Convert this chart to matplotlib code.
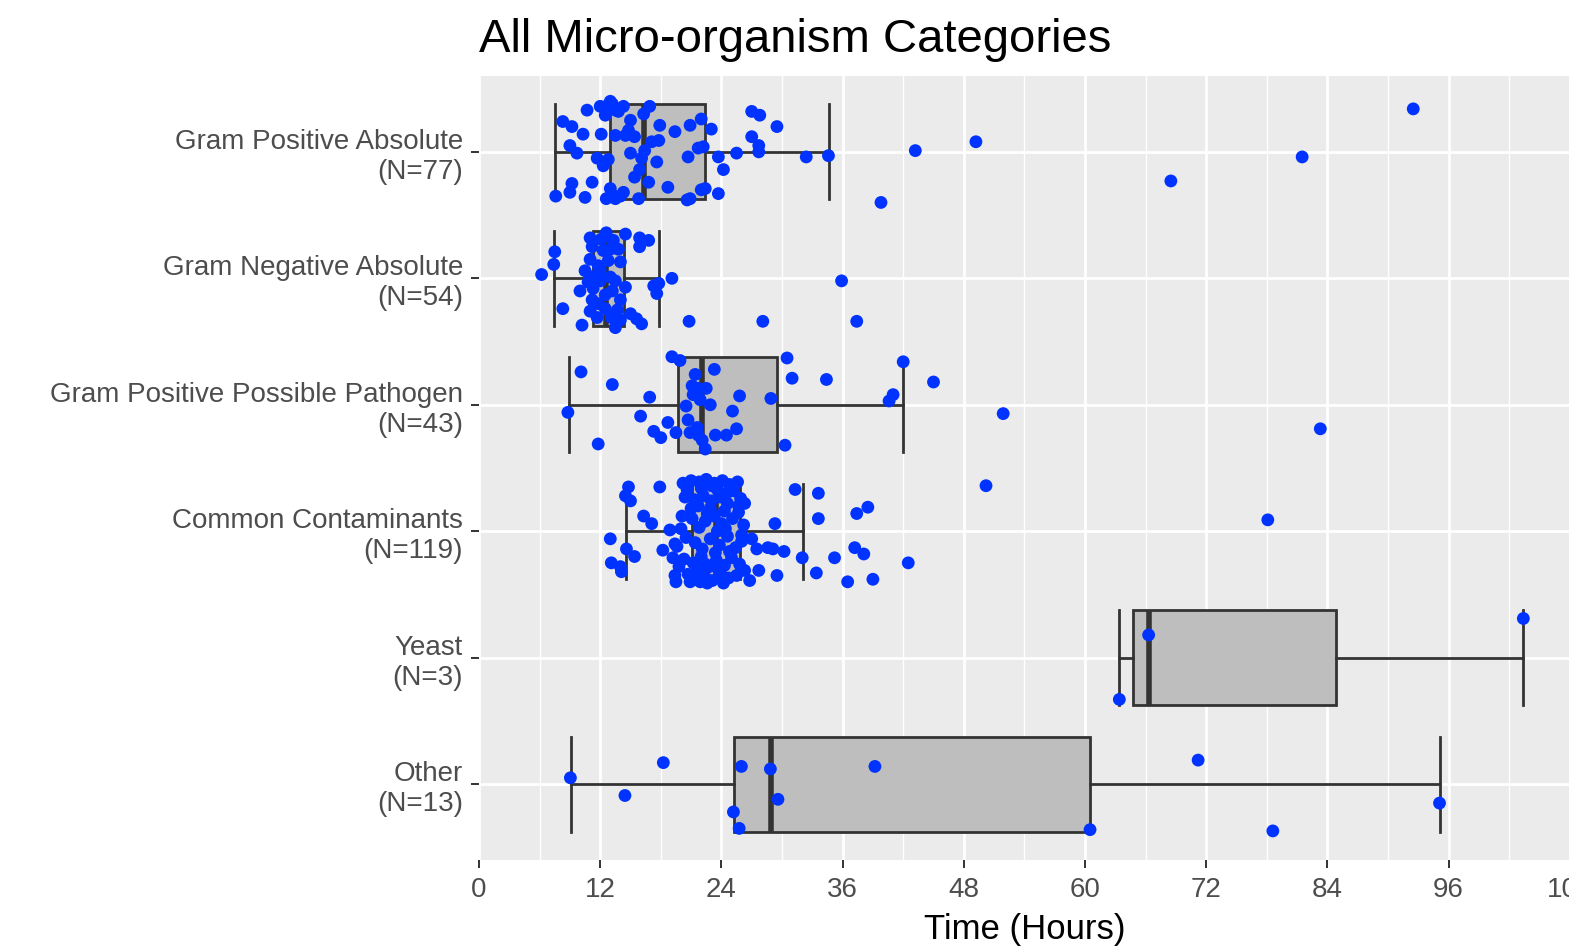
import matplotlib
matplotlib.use("Agg")
import matplotlib.pyplot as plt

plt.rcParams['font.family'] = ['Liberation Sans', 'DejaVu Sans']

# categories, top to bottom
categories = ["Gram Positive Absolute", "Gram Negative Absolute",
              "Gram Positive Possible Pathogen", "Common Contaminants",
              "Yeast", "Other"]
counts = [77, 54, 43, 119, 3, 13]

# box statistics: whisker low, Q1, median, Q3, whisker high
whisk_lo = [7.5, 7.4, 8.9, 14.6, 63.4, 9.1]
q1 = [13.0, 11.3, 19.7, 21.1, 64.8, 25.2]
med = [16.3, 12.6, 22.1, 23.5, 66.3, 28.9]
q3 = [22.4, 14.4, 29.5, 25.8, 84.9, 60.5]
whisk_hi = [34.7, 17.8, 42.0, 32.1, 103.4, 95.1]

# individual observations (hours) and their vertical jitter
gpa_hours = [7.6, 8.3, 9.2, 10.3, 9.0, 9.7, 10.7, 9.2, 9.0, 10.5, 11.2, 11.7, 12.3, 12.1,
             12.6, 13.0, 13.5, 14.3, 12.5, 13.5, 14.5, 15.4, 15.0, 15.0, 15.4, 13.0, 12.6,
             13.5, 14.3, 16.8, 15.8, 16.3, 16.9, 16.1, 16.4, 17.1, 17.8, 17.6, 17.9, 19.4,
             18.7, 20.6, 20.9, 20.7, 21.7, 22.0, 22.0, 23.0, 22.2, 23.7, 24.2, 25.5, 22.4,
             23.7, 27.0, 27.8, 29.5, 27.0, 27.7, 27.7, 32.4, 34.6, 20.9, 39.8, 43.2, 49.2,
             68.5, 81.5, 92.5, 13.2, 13.8, 14.0, 13.2, 14.8, 15.9, 12.8, 12.0]
gpa_jitter = [-0.35, 0.24, 0.20, 0.14, 0.05, -0.01, 0.33, -0.25, -0.32, -0.36, -0.24, -0.05,
              -0.11, 0.14, 0.36, 0.40, 0.33, 0.36, 0.29, 0.13, 0.13, 0.12, 0.25, -0.01, -0.20,
              -0.29, -0.37, -0.37, -0.32, -0.24, -0.37, 0.30, 0.36, -0.05, 0.01, 0.08, 0.09,
              -0.08, 0.21, 0.16, -0.28, -0.38, 0.21, -0.04, 0.03, 0.26, -0.30, 0.18, 0.04,
              -0.04, -0.14, -0.01, -0.29, -0.33, 0.32, 0.29, 0.20, 0.12, 0.05, 0.00, -0.04,
              -0.03, -0.37, -0.40, 0.01, 0.08, -0.23, -0.04, 0.34, 0.38, 0.32, -0.35, -0.34,
              0.17, -0.14, -0.06, 0.36]

gna_hours = [6.2, 7.5, 7.4, 8.3, 10.0, 10.2, 11.0, 11.2, 11.0, 10.8, 11.5, 12.0, 12.1, 12.6,
             13.0, 13.8, 14.5, 14.0, 13.0, 13.5, 11.3, 11.0, 11.8, 12.5, 11.7, 13.1, 13.5,
             14.0, 15.0, 15.6, 16.1, 15.9, 16.8, 15.9, 17.3, 17.6, 19.1, 20.8, 35.9, 28.1,
             37.4, 12.0, 12.5, 13.2, 11.8, 14.0, 12.8, 12.3, 11.2, 13.7, 10.5, 13.3, 17.8,
             14.5]
gna_jitter = [0.03, 0.21, 0.11, -0.24, -0.10, -0.37, 0.32, 0.25, 0.15, -0.03, 0.02, 0.07,
              0.31, 0.36, 0.23, 0.23, 0.35, 0.13, 0.01, -0.02, -0.08, -0.26, -0.20, -0.24,
              -0.31, -0.31, -0.39, -0.33, -0.28, -0.32, -0.36, 0.32, 0.30, 0.25, -0.06, -0.12,
              0.00, -0.34, -0.02, -0.34, -0.34, -0.02, -0.13, -0.10, 0.10, -0.17, 0.14, 0.22,
              -0.17, -0.25, 0.06, 0.30, -0.04, -0.07]

gppp_hours = [8.8, 10.1, 13.2, 11.8, 16.9, 16.0, 17.3, 18.0, 18.7, 19.5, 19.1, 19.9, 20.5,
              21.4, 21.1, 21.7, 21.2, 22.5, 20.9, 21.6, 21.7, 22.4, 23.3, 22.9, 23.4, 24.5,
              25.5, 25.1, 25.8, 28.9, 30.5, 31.0, 30.3, 34.4, 40.6, 41.0, 42.0, 45.0, 51.9,
              83.3, 21.9, 20.7, 22.1]
gppp_jitter = [-0.06, 0.26, 0.16, -0.31, 0.06, -0.09, -0.21, -0.26, -0.14, -0.22, 0.38, 0.35,
               -0.01, 0.24, 0.15, 0.13, 0.08, 0.13, -0.22, -0.18, -0.24, -0.35, 0.28, 0.00,
               -0.24, -0.24, -0.19, -0.05, 0.07, 0.05, 0.37, 0.21, -0.32, 0.20, 0.03, 0.08,
               0.34, 0.18, -0.07, -0.19, 0.04, -0.12, -0.28]

cc_hours = [14.8, 14.5, 15.0, 17.9, 16.3, 17.1, 13.0, 14.6, 15.4, 13.1, 14.0, 14.1, 18.9,
            18.2, 19.4, 19.2, 19.4, 19.5,
            25.7, 26.3, 29.3, 31.3, 33.6, 33.6, 37.4, 38.5, 26.0, 27.0, 27.5, 28.6, 29.1,
            30.2, 32.0, 35.2, 37.2, 38.1, 42.5, 26.0, 27.7, 26.8, 29.5, 33.4, 36.5, 39.0,
            50.2, 78.1,
            20.2, 21.0, 21.8, 22.5, 23.3, 24.1, 24.8, 25.6, 20.6, 22.0, 23.6, 25.2,
            20.4, 21.3, 22.2, 23.0, 23.9, 24.6, 25.9, 21.7, 22.9, 24.3,
            20.1, 21.1, 22.4, 23.3, 24.0, 25.1, 21.8, 23.6, 26.2,
            20.5, 21.4, 22.1, 22.9, 23.8, 24.6, 25.4, 26.0, 19.6,
            20.3, 21.2, 22.0, 22.8, 23.5, 24.3, 25.0, 25.8, 21.6, 19.8,
            20.7, 21.5, 22.3, 23.1, 23.9, 24.7, 25.5, 26.3, 22.6, 24.2, 21.9, 20.9,
            23.0, 24.5, 22.6, 24.8, 21.0, 23.4, 25.7, 20.0, 24.4, 22.4, 23.7]
cc_jitter = [0.35, 0.28, 0.24, 0.35, 0.12, 0.06, -0.06, -0.14, -0.20, -0.25, -0.28, -0.32, 0.01,
             -0.15, -0.10, -0.21, -0.35, -0.40,
             0.20, 0.22, 0.06, 0.33, 0.30, 0.10, 0.14, 0.19, -0.03, -0.06, -0.14, -0.13, -0.14,
             -0.16, -0.21, -0.21, -0.13, -0.18, -0.25, -0.30, -0.31, -0.39, -0.35, -0.33,
             -0.40, -0.38, 0.36, 0.09,
             0.38, 0.40, 0.39, 0.41, 0.38, 0.40, 0.37, 0.39, 0.33, 0.34, 0.33, 0.32,
             0.27, 0.25, 0.28, 0.24, 0.27, 0.22, 0.26, 0.20, 0.18, 0.16,
             0.12, 0.10, 0.08, 0.12, 0.06, 0.10, 0.03, 0.00, 0.05,
             -0.05, -0.09, -0.14, -0.06, -0.11, -0.04, -0.13, -0.08, -0.12,
             -0.22, -0.25, -0.20, -0.28, -0.23, -0.27, -0.21, -0.26, -0.30, -0.28,
             -0.34, -0.38, -0.35, -0.39, -0.33, -0.37, -0.35, -0.31, -0.41, -0.41, -0.40, -0.40,
             0.36, 0.30, 0.14, -0.16, 0.18, -0.17, 0.15, 0.02, 0.02, -0.26, -0.30]

yeast_hours = [63.4, 66.3, 103.4]
yeast_jitter = [-0.33, 0.18, 0.31]

other_hours = [9.05, 18.25, 14.45, 25.98, 28.85, 29.6, 25.19, 25.76, 39.2, 60.5, 71.2, 95.1, 78.6]
other_jitter = [0.05, 0.17, -0.09, 0.14, 0.12, -0.12, -0.22, -0.35, 0.14, -0.36, 0.19, -0.15, -0.37]

hours = [gpa_hours, gna_hours, gppp_hours, cc_hours, yeast_hours, other_hours]
jitter = [gpa_jitter, gna_jitter, gppp_jitter, cc_jitter, yeast_jitter, other_jitter]

positions = list(range(len(categories), 0, -1))

fig = plt.figure(figsize=(15.69, 9.5), dpi=100)
ax = fig.add_axes([479 / 1569, 1 - 860 / 950, 1090.8 / 1569, 784 / 950])
ax.set_facecolor('#EBEBEB')
for s in ax.spines.values():
    s.set_visible(False)

stats = []
for i in range(len(categories)):
    stats.append(dict(whislo=whisk_lo[i], q1=q1[i], med=med[i], q3=q3[i], whishi=whisk_hi[i]))

edge = '#333333'
ax.bxp(stats, positions=positions, widths=0.75, capwidths=0.75,
       orientation='horizontal', patch_artist=True, showfliers=False, manage_ticks=False,
       boxprops=dict(facecolor='#BEBEBE', edgecolor=edge, linewidth=2.0),
       whiskerprops=dict(color=edge, linewidth=2.0),
       capprops=dict(color=edge, linewidth=2.0),
       medianprops=dict(color=edge, linewidth=4.0, solid_capstyle='butt'),
       zorder=2)

for i in range(len(categories)):
    ys = [positions[i] + j for j in jitter[i]]
    ax.scatter(hours[i], ys, s=85, color='#0033FF', edgecolors='none', zorder=3)

ax.set_xlim(0, 108)
ax.set_ylim(0.4, 6.6)
ax.set_xticks(range(0, 109, 12))
ax.set_xticks(range(6, 108, 12), minor=True)
ax.set_yticks(positions)
ax.set_yticklabels([f"{c}\n(N={n})" for c, n in zip(categories, counts)])

ax.set_axisbelow(True)
ax.grid(which='major', color='white', linewidth=2.0)
ax.grid(which='minor', axis='x', color='white', linewidth=1.0)

ax.tick_params(axis='both', which='major', length=5.5, width=1.4, color=edge,
               labelsize=20, labelcolor='#4D4D4D')
ax.tick_params(axis='x', which='major', pad=7)
ax.tick_params(axis='y', which='major', pad=6)
ax.tick_params(axis='x', which='minor', length=0)
for lab in ax.get_yticklabels():
    lab.set_linespacing(1.2)

ax.set_xlabel("Time (Hours)", fontsize=25, color='black', labelpad=7)
fig.text(479 / 1569, 1 - 52 / 950, "All Micro-organism Categories", fontsize=34,
         ha='left', va='baseline', color='black')

fig.savefig("out.png", dpi=100)
